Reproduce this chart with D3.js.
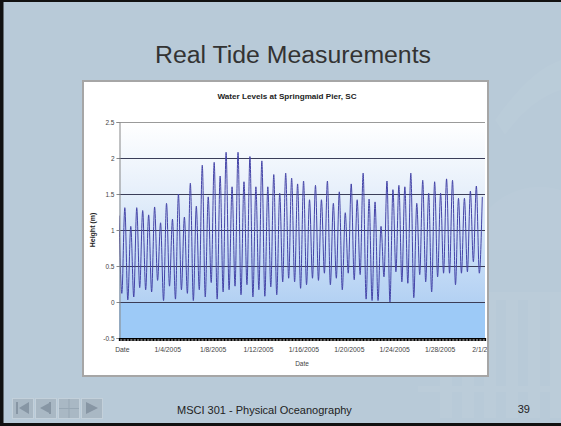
<!DOCTYPE html>
<html>
<head>
<meta charset="utf-8">
<script src="https://cdn.jsdelivr.net/npm/d3@7"></script>
<style>
  html, body { margin: 0; padding: 0; background: #b8cad8; }
  svg { display: block; font-family: "Liberation Sans", Arial, sans-serif; }
</style>
</head>
<body>
<svg id="chart" width="561" height="426"></svg>
<script>
// ---------------- data ----------------
const slideTitle = "Real Tide Measurements";
const chartTitle = "Water Levels at Springmaid Pier, SC";
const yTitle = "Height (m)";
const xTitle = "Date";
const footerText = "MSCI 301 - Physical Oceanography";
const pageNumber = "39";

const yTicks = [-0.5, 0, 0.5, 1, 1.5, 2, 2.5];
const yTickLabels = ["-0.5", "0", "0.5", "1", "1.5", "2", "2.5"];
const gridLevels = [0, 0.5, 1, 1.5, 2];

const xTickDates = ["2004-12-31", "2005-01-04", "2005-01-08", "2005-01-12", "2005-01-16",
                    "2005-01-20", "2005-01-24", "2005-01-28", "2005-02-01"];
const xTickLabels = ["Date", "1/4/2005", "1/8/2005", "1/12/2005", "1/16/2005",
                     "1/20/2005", "1/24/2005", "1/28/2005", "2/1/2005"];

// successive low waters and high waters (m)
const lowLevels = [0.12, 0.03, 0.07, 0.20, 0.17, 0.14, 0.30, 0.02, 0.22, 0.04,
                   0.17, 0.12, 0.02, 0.17, 0.07, 0.27, 0.04, 0.14, 0.17, 0.22,
                   0.10, 0.24, 0.07, 0.17, 0.08, 0.21, 0.10, 0.28, 0.33, 0.28,
                   0.19, 0.24, 0.33, 0.30, 0.40, 0.24, 0.33, 0.17, 0.40, 0.31,
                   0.38, 0.04, 0.02, 0.02, 0.35, 0.00, 0.42, 0.28, 0.26, 0.06,
                   0.38, 0.28, 0.14, 0.35, 0.40, 0.40, 0.24, 0.40, 0.42, 0.56, 0.40];
const highLevels = [1.31, 1.05, 1.31, 1.27, 1.21, 1.32, 1.10, 1.37, 1.15, 1.50,
                    1.18, 1.65, 1.33, 1.90, 1.46, 1.94, 1.75, 2.08, 1.60, 2.08,
                    1.67, 2.02, 1.60, 1.96, 1.60, 1.77, 1.51, 1.79, 1.72, 1.64,
                    1.68, 1.42, 1.62, 1.42, 1.68, 1.37, 1.53, 1.24, 1.64, 1.42,
                    1.79, 1.43, 1.39, 1.05, 1.68, 1.56, 1.62, 1.60, 1.79, 1.37,
                    1.69, 1.51, 1.67, 1.51, 1.71, 1.69, 1.44, 1.44, 1.54, 1.61, 1.46];
const startLevel = 1.2;          // level at the first record
const firstLowTime = "2004-12-31T00:00";
const tideCycleHours = 12.6;     // spacing of successive lows

// ---------------- drawing ----------------
const svg = d3.select("#chart");
const W = 561, H = 426;
const parse = d3.timeParse("%Y-%m-%d");
const parseT = d3.timeParse("%Y-%m-%dT%H:%M");

// slide background
svg.append("rect").attr("width", W).attr("height", H).attr("fill", "#b8cad8");
// faint watermark building
const wm = svg.append("g").attr("fill", "#ffffff").attr("opacity", 0.04);
[440, 462, 484, 506, 528, 550].forEach(cx => {
  wm.append("rect").attr("x", cx).attr("y", 300).attr("width", 12).attr("height", 118);
});
wm.append("rect").attr("x", 425).attr("y", 292).attr("width", 136).attr("height", 8);
wm.append("rect").attr("x", 418).attr("y", 386).attr("width", 143).attr("height", 6);
svg.append("path").attr("d", "M495,120 Q530,70 561,60 L561,90 Q530,100 505,135 Z")
  .attr("fill", "#ffffff").attr("opacity", 0.04);
svg.append("path").attr("d", "M470,250 A70,70 0 0 1 561,190 L561,250 Z")
  .attr("fill", "#ffffff").attr("opacity", 0.03);

// slide frame
svg.append("rect").attr("x", 0).attr("y", 0).attr("width", 3.5).attr("height", H).attr("fill", "#111");
svg.append("rect").attr("x", 0).attr("y", 0).attr("width", W).attr("height", 2).attr("fill", "#111");
svg.append("rect").attr("x", 0).attr("y", 423).attr("width", W).attr("height", 3).attr("fill", "#111");

// slide title
svg.append("text").attr("x", 293).attr("y", 63).attr("text-anchor", "middle")
  .attr("font-size", 23).attr("fill", "#333").attr("textLength", 276)
  .attr("lengthAdjust", "spacingAndGlyphs").text(slideTitle);

// chart box
const box = {x: 83, y: 81, w: 405, h: 295};
svg.append("rect").attr("x", box.x + 1).attr("y", box.y + 1).attr("width", box.w).attr("height", box.h)
  .attr("fill", "#9aa6b0").attr("opacity", 0.5);
svg.append("rect").attr("x", box.x).attr("y", box.y).attr("width", box.w).attr("height", box.h)
  .attr("fill", "#fff").attr("stroke", "#a6a6a6").attr("stroke-width", 2);

const defs = svg.append("defs");
defs.append("clipPath").attr("id", "boxClip").append("rect")
  .attr("x", box.x).attr("y", box.y).attr("width", box.w - 1).attr("height", box.h);

const plot = {left: 119, right: 485, top: 122, bottom: 338};
const x = d3.scaleTime()
  .domain([parseT("2004-12-30T18:00"), parse("2005-02-01")])
  .range([plot.left, plot.right]);
const y = d3.scaleLinear().domain([-0.5, 2.5]).range([plot.bottom, plot.top]);

// plot area fills
const grad = defs.append("linearGradient").attr("id", "pg").attr("x1", 0).attr("y1", 0).attr("x2", 0).attr("y2", 1);
grad.append("stop").attr("offset", "0%").attr("stop-color", "#ffffff");
grad.append("stop").attr("offset", "35%").attr("stop-color", "#e9f1fb");
grad.append("stop").attr("offset", "100%").attr("stop-color", "#b3d1f3");
svg.append("rect").attr("x", plot.left).attr("y", y(2.5))
  .attr("width", plot.right - plot.left).attr("height", y(0) - y(2.5)).attr("fill", "url(#pg)");
svg.append("rect").attr("x", plot.left).attr("y", y(0))
  .attr("width", plot.right - plot.left).attr("height", y(-0.5) - y(0)).attr("fill", "#9dcaf7");

// gridlines
svg.append("line").attr("x1", plot.left).attr("x2", plot.right).attr("y1", y(2.5) + 0.5).attr("y2", y(2.5) + 0.5)
  .attr("stroke", "#9a9a9a").attr("stroke-width", 1);
svg.selectAll(".grid").data(gridLevels).join("line").attr("class", "grid")
  .attr("x1", plot.left).attr("x2", plot.right)
  .attr("y1", d => Math.round(y(d)) + 0.5).attr("y2", d => Math.round(y(d)) + 0.5)
  .attr("stroke", "#3a3d58").attr("stroke-width", 1);

// tide series
const pts = [{t: d3.timeHour.offset(parseT(firstLowTime), -6), v: startLevel}];
const t0 = parseT(firstLowTime);
const n = Math.min(lowLevels.length, highLevels.length);
for (let i = 0; i < n; i++) {
  pts.push({t: new Date(+t0 + i * tideCycleHours * 3600e3), v: lowLevels[i]});
  pts.push({t: new Date(+t0 + (i + 0.5) * tideCycleHours * 3600e3), v: highLevels[i]});
}
defs.append("clipPath").attr("id", "plotClip").append("rect")
  .attr("x", plot.left).attr("y", plot.top - 5).attr("width", plot.right - plot.left).attr("height", plot.bottom - plot.top + 5);
svg.append("path").datum(pts)
  .attr("clip-path", "url(#plotClip)")
  .attr("fill", "none").attr("stroke", "#4444a8").attr("stroke-width", 1)
  .attr("d", d3.line().x(d => x(d.t)).y(d => y(d.v)).curve(d3.curveMonotoneX));

// y axis
const yAxis = d3.axisLeft(y).tickValues(yTicks).tickSize(3)
  .tickFormat((d, i) => yTickLabels[i]);
const gy = svg.append("g").attr("transform", `translate(${plot.left + 0.5},0)`).call(yAxis);
gy.select(".domain").attr("stroke", "#888");
gy.selectAll(".tick line").attr("stroke", "#888");
gy.selectAll("text").attr("font-size", 6.5).attr("fill", "#444").attr("x", -5)
  .attr("font-family", "Liberation Sans, Arial, sans-serif");

// x axis: dense hourly ticks make a dark band
const gxb = svg.append("g").attr("transform", `translate(0,${plot.bottom})`)
  .call(d3.axisBottom(x).ticks(d3.timeHour.every(3)).tickSize(3).tickFormat(""));
gxb.select(".domain").attr("stroke", "#000").attr("stroke-width", 1.2);
gxb.selectAll(".tick line").attr("stroke", "#000").attr("stroke-width", 1.1);

const gx = svg.append("g").attr("clip-path", "url(#boxClip)")
  .append("g").attr("transform", `translate(0,${plot.bottom})`)
  .call(d3.axisBottom(x).tickValues(xTickDates.map(parse)).tickSize(0)
    .tickFormat((d, i) => xTickLabels[i]));
gx.select(".domain").remove();
gx.selectAll("text").attr("font-size", 6.8).attr("fill", "#444").attr("dy", "0.71em").attr("y", 9)
  .attr("font-family", "Liberation Sans, Arial, sans-serif");

// titles
svg.append("text").attr("x", 287).attr("y", 99).attr("text-anchor", "middle")
  .attr("font-size", 8).attr("font-weight", "bold").attr("fill", "#222")
  .attr("textLength", 139).attr("lengthAdjust", "spacingAndGlyphs").text(chartTitle);
svg.append("text").attr("transform", "translate(95,230) rotate(-90)").attr("text-anchor", "middle")
  .attr("font-size", 7).attr("font-weight", "bold").attr("fill", "#222").text(yTitle);
svg.append("text").attr("x", 302).attr("y", 366).attr("text-anchor", "middle")
  .attr("font-size", 6.5).attr("fill", "#444").text(xTitle);

// footer
svg.append("text").attr("x", 177).attr("y", 414).attr("font-size", 11).attr("fill", "#222").text(footerText);
svg.append("text").attr("x", 530).attr("y", 413).attr("text-anchor", "end").attr("font-size", 11).attr("fill", "#222").text(pageNumber);

// navigation buttons
const nav = svg.append("g");
const bx = [12, 35, 58, 81];
bx.forEach(b => {
  nav.append("rect").attr("x", b + 0.5).attr("y", 398.5).attr("width", 21).attr("height", 20)
    .attr("fill", "#a9b8c4").attr("stroke", "#c3d0da").attr("stroke-width", 1);
});
const ic = "#8796a4";
nav.append("rect").attr("x", 16).attr("y", 402).attr("width", 2).attr("height", 12).attr("fill", ic);
nav.append("path").attr("d", "M29,402 L19,408 L29,414 Z").attr("fill", ic);
nav.append("path").attr("d", "M51,402 L40,408 L51,414 Z").attr("fill", ic);
nav.append("rect").attr("x", 49).attr("y", 402).attr("width", 2).attr("height", 12).attr("fill", ic);
nav.append("line").attr("x1", 69).attr("x2", 69).attr("y1", 399).attr("y2", 418).attr("stroke", "#97a7b4");
nav.append("line").attr("x1", 59).attr("x2", 79).attr("y1", 408.5).attr("y2", 408.5).attr("stroke", "#97a7b4");
nav.append("path").attr("d", "M86,402 L98,408 L86,414 Z").attr("fill", ic);
</script>
</body>
</html>
